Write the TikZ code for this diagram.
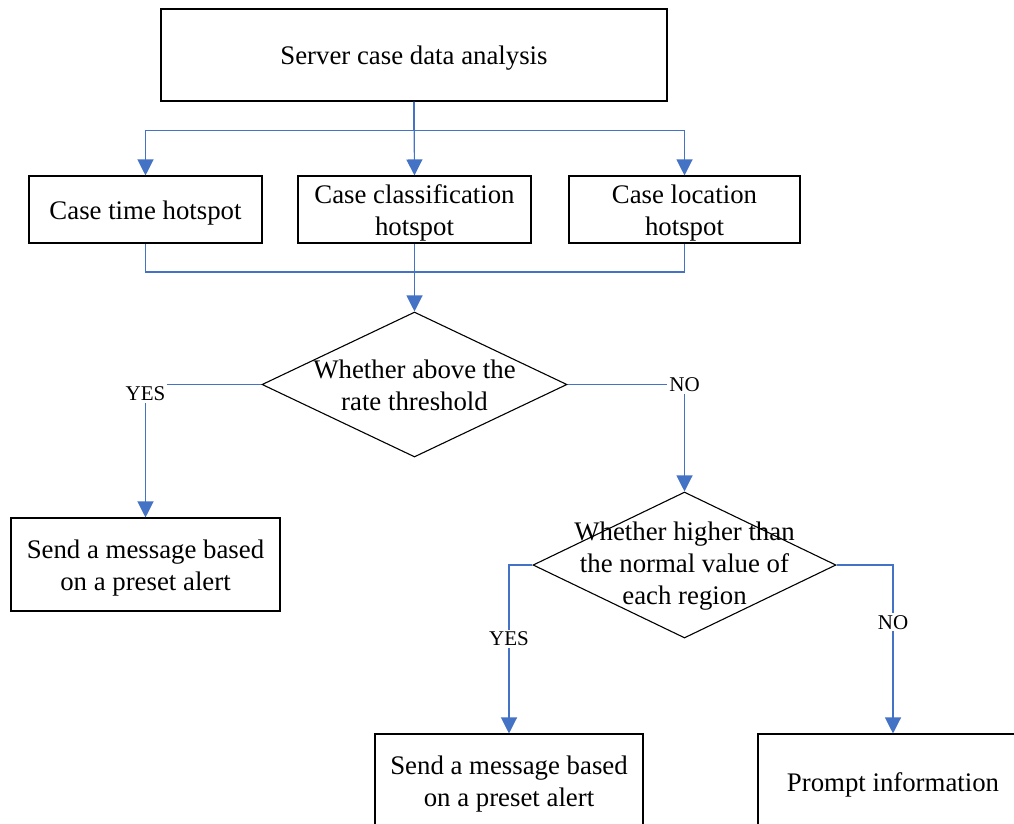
\documentclass[tikz,border=0pt]{standalone}
\usepackage{fontspec}
\setmainfont{Liberation Serif}
\usetikzlibrary{shapes.geometric,arrows.meta,calc}
\definecolor{lineblue}{RGB}{68,114,196}
\begin{document}
\begin{tikzpicture}[x=1pt,y=-1pt,
  box/.style={draw=black,line width=1.1pt,rectangle,inner sep=0pt},
  boxtext/.style={align=center,font=\fontsize{26.8}{32}\selectfont,yshift=-3.5pt},
  dia/.style={draw=black,line width=1.1pt,diamond,inner sep=0pt},
  diatext/.style={align=center,font=\fontsize{26.8}{32}\selectfont,yshift=-1pt},
  conn/.style={draw=lineblue,line width=1.2pt},
  arr/.style={conn,-{Triangle[width=16pt,length=16pt]}},
  lbl/.style={fill=white,inner sep=2pt,font=\fontsize{21}{24}\selectfont}]
\useasboundingbox (0,0) rectangle (1014,823);
\node[box,minimum width=506pt,minimum height=92pt,label={[boxtext]center:Server case data analysis}] (top) at (414,55) {};
\node[box,minimum width=233pt,minimum height=67pt,label={[boxtext]center:Case time hotspot}] (b1) at (145.5,209.5) {};
\node[box,minimum width=233pt,minimum height=67pt,label={[boxtext]center:Case classification\\hotspot}] (b2) at (414.5,209.5) {};
\node[box,minimum width=231pt,minimum height=67pt,label={[boxtext]center:Case location\\hotspot}] (b3) at (684.5,209.5) {};
\node[dia,minimum width=305pt,minimum height=145pt,label={[diatext]center:Whether above the\\rate threshold}] (d1) at (414.5,384.5) {};
\node[box,minimum width=269pt,minimum height=93pt,label={[boxtext]center:Send a message based\\on a preset alert}] (alert1) at (145.5,564.5) {};
\node[dia,minimum width=303pt,minimum height=146pt,label={[diatext]center:Whether higher than\\the normal value of\\each region}] (d2) at (684.5,565) {};
\node[box,minimum width=268pt,minimum height=94pt,label={[boxtext]center:Send a message based\\on a preset alert}] (alert2) at (509,781) {};
\node[box,minimum width=270pt,minimum height=94pt,label={[boxtext]center:Prompt information}] (prompt) at (893,781) {};
\coordinate (m) at (414.5,272);
% split
\draw[arr] (top.south) -- (b2.north);
\draw[arr] (top.south) -- ++(0,29) -| (b1.north);
\draw[arr] (top.south) -- ++(0,29) -| (b3.north);
% merge
\draw[conn] (b1.south) |- (m);
\draw[conn] (b3.south) |- (m);
\draw[arr] (b2.south) -- (d1.north);
% decisions
\draw[arr] (d1.west) -| node[lbl,pos=0.5,yshift=-9pt]{YES} (alert1.north);
\draw[arr] (d1.east) -| node[lbl,pos=0.5]{NO} (d2.north);
\draw[arr] (d2.west) -| node[lbl,pos=0.72]{YES} (alert2.north);
\draw[arr] (d2.east) -| node[lbl,pos=0.67]{NO} (prompt.north);
\end{tikzpicture}
\end{document}
